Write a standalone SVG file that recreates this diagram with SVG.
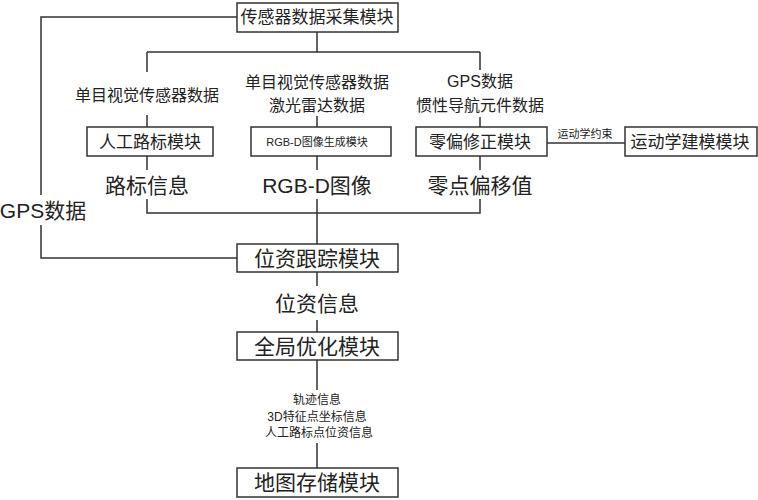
<svg xmlns="http://www.w3.org/2000/svg" width="758" height="500" viewBox="0 0 758 500">
<style>
text{font-family:"Liberation Sans","Noto Sans CJK SC",sans-serif;fill:#222;text-anchor:middle;dominant-baseline:central}
.box{fill:#fff;stroke:#333;stroke-width:1.5}
.ln{fill:none;stroke:#333;stroke-width:1.5}
.f17{font-size:17px}
.f16{font-size:16px}
.f21{font-size:21px}
.f12{font-size:12px}
.f11{font-size:11px}
</style>
<rect width="758" height="500" fill="#fff"/>
<g id="connectors">
<path class="ln" d="M317,32 V52 M147,52 H480 M147,52 V72 M480,52 V70"/>
<path class="ln" d="M147,115 V127 M317,116 V127 M480,117 V127"/>
<path class="ln" d="M147,156 V170 M317,156 V170 M480,156 V170"/>
<path class="ln" d="M147,199 V213 H480 V199 M317,199 V244"/>
<path class="ln" d="M547,143 H625"/>
<path class="ln" d="M237,17 H41 V195 M41,225 V258 H237"/>
<path class="ln" d="M317,272 V286 M317,320 V332"/>
<path class="ln" d="M317,360 V390 M317,443 V468"/>
</g>
<g id="sensor">
<rect class="box" x="237" y="3" width="161" height="29"/>
<text class="f17" x="317" y="17.5">传感器数据采集模块</text>
</g>
<g id="labels-top">
<text class="f16" x="147" y="95">单目视觉传感器数据</text>
<text class="f16" x="317" y="82">单目视觉传感器数据</text>
<text class="f16" x="317" y="105">激光雷达数据</text>
<text class="f16" x="480" y="81">GPS数据</text>
<text class="f16" x="480" y="105">惯性导航元件数据</text>
</g>
<g id="landmark">
<rect class="box" x="87" y="127" width="126" height="29"/>
<text class="f17" x="150" y="142">人工路标模块</text>
</g>
<g id="rgbd">
<rect class="box" x="251" y="127" width="140" height="29"/>
<text class="f11" x="317" y="142">RGB-D图像生成模块</text>
</g>
<g id="zerobias">
<rect class="box" x="416" y="127" width="131" height="29"/>
<text class="f17" x="480" y="142">零偏修正模块</text>
</g>
<g id="kinematics">
<rect class="box" x="625" y="127" width="132" height="29"/>
<text class="f17" x="690" y="142">运动学建模模块</text>
</g>
<text class="f11" x="585" y="134">运动学约束</text>
<g id="labels-mid">
<text class="f21" x="147" y="185">路标信息</text>
<text class="f21" x="317" y="185">RGB-D图像</text>
<text class="f21" x="480" y="185">零点偏移值</text>
<text class="f21" x="43" y="210">GPS数据</text>
</g>
<g id="pose">
<rect class="box" x="237" y="244" width="161" height="28"/>
<text class="f21" x="317" y="258">位资跟踪模块</text>
</g>
<text class="f21" x="317" y="303">位资信息</text>
<g id="global">
<rect class="box" x="237" y="332" width="161" height="28"/>
<text class="f21" x="317" y="346">全局优化模块</text>
</g>
<g id="labels-bottom">
<text class="f12" x="317" y="400">轨迹信息</text>
<text class="f12" x="317" y="417">3D特征点坐标信息</text>
<text class="f12" x="319" y="433">人工路标点位资信息</text>
</g>
<g id="map">
<rect class="box" x="237" y="468" width="161" height="29"/>
<text class="f21" x="317" y="482.5">地图存储模块</text>
</g>
</svg>
